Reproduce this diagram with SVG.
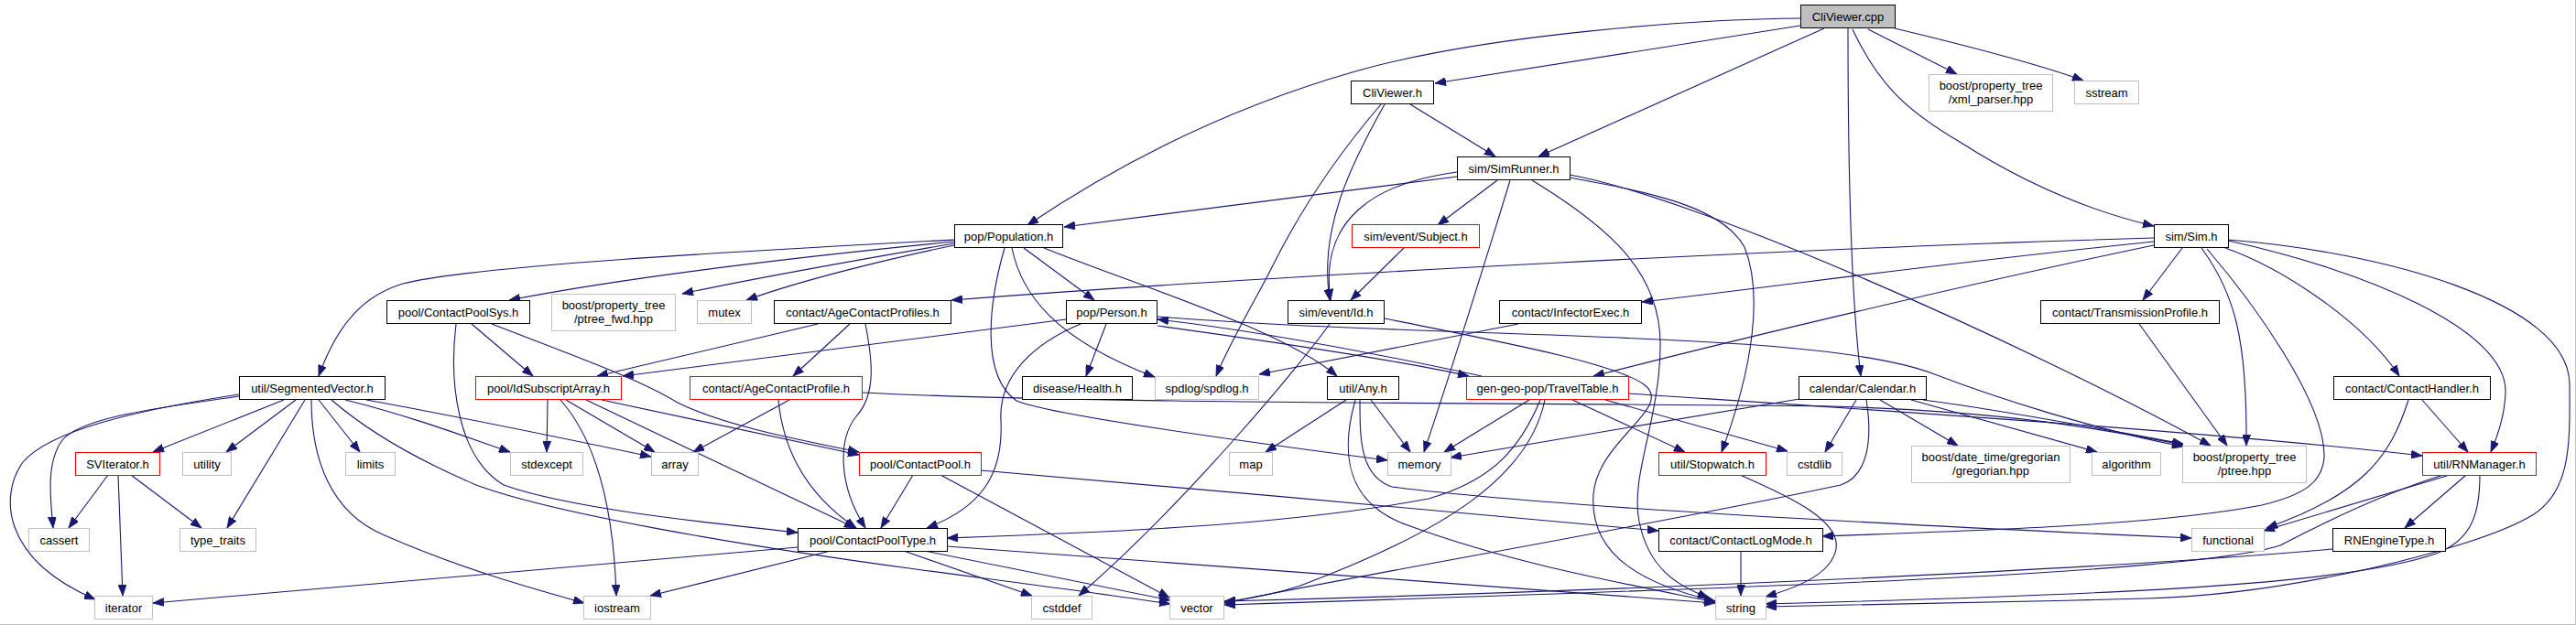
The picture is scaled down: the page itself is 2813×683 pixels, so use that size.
<svg xmlns="http://www.w3.org/2000/svg" width="2813" height="683" viewBox="0 0 2813 683">
<style>
.nd rect{fill:#ffffff;stroke:#000000;stroke-width:1}
.ex rect{fill:#ffffff;stroke:#bfbfbf;stroke-width:1}
.tr rect{fill:#ffffff;stroke:#ff0000;stroke-width:1}
.rt rect{fill:#bfbfbf;stroke:#000000;stroke-width:1}
text{font-family:"Liberation Sans",Arial,sans-serif;font-size:13px;fill:#000000;text-anchor:middle}
#edges path{fill:none;stroke:#191970;stroke-width:1.1;marker-end:url(#a)}
</style>
<defs>
<marker id="a" markerWidth="13" markerHeight="9" refX="12" refY="4.5" orient="auto" markerUnits="userSpaceOnUse">
<path d="M0,0 L12,4.5 L0,9 z" fill="#191970" stroke="#191970" stroke-width="0.8"/>
</marker>
</defs>
<rect x="0" y="0" width="2813" height="683" fill="#ffffff"/>
<line x1="0" y1="682.5" x2="2813" y2="682.5" stroke="#c0c0c0" stroke-width="1"/>
<line x1="2812.5" y1="0" x2="2812.5" y2="683" stroke="#c0c0c0" stroke-width="1"/>

<g id="edges">
<path d="M1966,28 L1567,91"/>
<path d="M1966,20 C1850,21 1620,38 1480,78 C1340,118 1220,180 1122,246"/>
<path d="M1992,31 L1680,171"/>
<path d="M2018,31 C2018,200 2022,330 2032,411"/>
<path d="M2040,32 L2137,81"/>
<path d="M2069,31 C2140,48 2220,68 2275,88"/>
<path d="M2023,32 C2050,90 2080,120 2140,155 C2210,200 2280,230 2352,247"/>
<path d="M1540,114 L1633,171"/>
<path d="M1512,114 C1475,180 1440,250 1452,328"/>
<path d="M1591,188 C1500,200 1440,240 1453,328"/>
<path d="M1508,114 C1460,170 1420,230 1390,290 C1370,330 1345,370 1328,411"/>
<path d="M1591,193 L1162,248"/>
<path d="M1635,197 L1570,246"/>
<path d="M1649,197 C1630,260 1580,420 1555,494"/>
<path d="M1673,197 C1760,250 1815,300 1813,380 C1812,460 1780,520 1790,570 C1800,620 1830,640 1866,653"/>
<path d="M1714,194 C1800,210 1880,225 1905,270 C1925,320 1915,400 1880,494"/>
<path d="M1714,191 C1850,215 2200,370 2414,487"/>
<path d="M1533,271 L1475,328"/>
<path d="M1452,354 C1425,392 1300,545 1178,651"/>
<path d="M1512,348 C1620,370 1760,395 1795,420 C1830,445 1745,480 1740,540 C1735,610 1800,640 1873,657"/>
<path d="M1042,262 C800,275 520,290 440,310 C400,322 370,350 348,411"/>
<path d="M1042,264 C900,278 700,300 556,328"/>
<path d="M1042,266 C960,280 820,305 745,321"/>
<path d="M1042,268 C960,285 870,308 815,328"/>
<path d="M1097,271 C1080,330 1070,410 1110,438 C1150,455 1400,488 1515,503"/>
<path d="M1105,271 C1115,320 1150,370 1261,412"/>
<path d="M1118,271 L1195,328"/>
<path d="M1140,271 C1250,315 1400,360 1460,411"/>
<path d="M515,354 L582,411"/>
<path d="M537,354 C630,390 700,415 740,440 C790,465 870,480 938,494"/>
<path d="M498,354 C490,420 500,500 550,530 C620,555 760,570 871,582"/>
<path d="M893,354 L652,411"/>
<path d="M928,354 L866,411"/>
<path d="M945,354 C952,390 958,430 935,455 C915,480 915,530 945,577"/>
<path d="M1164,349 L680,411"/>
<path d="M1208,354 L1186,411"/>
<path d="M1180,354 C1130,375 1090,410 1093,460 C1096,520 1070,555 1012,577"/>
<path d="M1264,356 C1380,372 1520,392 1604,411"/>
<path d="M1618,411 C1520,390 1380,362 1264,349"/>
<path d="M1264,346 C1600,372 1980,360 2110,408 C2180,435 2290,470 2384,488"/>
<path d="M997,519 L962,577"/>
<path d="M1027,519 L1277,653"/>
<path d="M1071,514 C1300,534 1600,560 1811,580"/>
<path d="M598,437 L597,494"/>
<path d="M618,437 L715,494"/>
<path d="M612,437 C650,480 670,550 673,651"/>
<path d="M640,437 L934,577"/>
<path d="M657,437 L938,497"/>
<path d="M862,437 L757,494"/>
<path d="M850,437 C855,490 880,540 935,577"/>
<path d="M941,429 C1200,442 1700,440 2000,444 C2200,450 2300,470 2384,486"/>
<path d="M310,437 L167,494"/>
<path d="M323,437 L247,494"/>
<path d="M333,437 L248,577"/>
<path d="M348,437 L393,494"/>
<path d="M261,433 C180,445 90,455 68,481 C50,505 55,545 58,577"/>
<path d="M261,431 C150,448 55,470 25,505 C0,540 0,610 104,655"/>
<path d="M340,437 C340,500 360,560 420,585 C500,620 570,640 638,659"/>
<path d="M377,437 C450,455 510,478 557,494"/>
<path d="M400,437 C500,455 620,480 711,499"/>
<path d="M362,437 C400,470 450,500 520,530 C600,560 800,595 1000,622 C1120,638 1200,648 1278,660"/>
<path d="M118,519 L75,577"/>
<path d="M129,519 L134,651"/>
<path d="M143,519 L220,577"/>
<path d="M1470,437 L1382,494"/>
<path d="M1497,437 L1540,494"/>
<path d="M1485,437 C1485,480 1485,520 1520,532 C1700,555 2100,575 2393,588"/>
<path d="M1480,437 C1465,490 1465,550 1540,575 C1650,615 1760,635 1873,658"/>
<path d="M1670,437 L1577,494"/>
<path d="M1717,437 L1840,494"/>
<path d="M1753,437 L1952,493"/>
<path d="M1778,430 C2000,445 2400,470 2645,498"/>
<path d="M1687,437 C1670,520 1580,580 1420,640 C1390,650 1360,655 1337,658"/>
<path d="M1682,437 C1660,490 1630,525 1560,545 C1400,575 1200,582 1034,588"/>
<path d="M1965,436 C1850,455 1700,480 1584,500"/>
<path d="M2027,437 L1993,494"/>
<path d="M2053,437 L2138,487"/>
<path d="M2087,437 L2290,494"/>
<path d="M2100,437 C2200,450 2300,470 2384,485"/>
<path d="M2038,437 C2045,480 2040,520 2010,530 C1800,575 1500,625 1337,659"/>
<path d="M1900,519 C1960,545 2010,570 2005,600 C2000,625 1970,640 1928,652"/>
<path d="M1901,602 L1901,651"/>
<path d="M871,598 L167,659"/>
<path d="M907,602 L710,651"/>
<path d="M987,602 L1127,651"/>
<path d="M1010,602 L1278,656"/>
<path d="M1034,597 C1300,615 1600,640 1873,659"/>
<path d="M2352,260 C2000,270 1400,300 1039,328"/>
<path d="M2352,264 C2100,290 1950,312 1793,330"/>
<path d="M2352,268 C2150,310 1900,370 1740,411"/>
<path d="M2383,271 L2340,328"/>
<path d="M2404,271 C2440,320 2454,370 2453,487"/>
<path d="M2410,272 C2460,330 2540,440 2538,500 C2536,525 2520,540 2470,552 C2350,575 2150,580 1990,586"/>
<path d="M2430,271 C2490,292 2580,350 2620,411"/>
<path d="M2433,263 C2580,295 2740,360 2736,430 C2735,455 2728,475 2720,494"/>
<path d="M2433,262 C2600,275 2806,330 2806,420 C2806,480 2810,540 2760,566 C2700,600 2500,650 2343,654 C2200,658 2050,660 1928,663"/>
<path d="M2708,519 C2708,560 2700,590 2660,605 C2560,640 2300,650 1928,660"/>
<path d="M2668,519 C2600,540 2530,575 2490,596 C2400,625 2000,640 1337,661"/>
<path d="M2675,519 L2472,580"/>
<path d="M2693,519 L2626,577"/>
<path d="M2547,600 C2300,622 1800,645 1337,657"/>
<path d="M2645,437 L2695,494"/>
<path d="M2630,437 C2610,500 2580,540 2475,577"/>
<path d="M2336,354 L2432,487"/>
<path d="M1658,354 L1375,409"/>
</g>

<g id="n0" class="rt"><rect x="1966.5" y="5.5" width="103" height="25"/><text x="2018" y="22.5">CliViewer.cpp</text></g>
<g id="n1" class="nd"><rect x="1475.5" y="88.5" width="90" height="25"/><text x="1520.5" y="105.5">CliViewer.h</text></g>
<g id="n2" class="ex"><rect x="2106.5" y="81.5" width="135" height="40"/><text x="2174" y="98">boost/property_tree</text><text x="2174" y="112.5">/xml_parser.hpp</text></g>
<g id="n3" class="ex"><rect x="2265.5" y="88.5" width="70" height="25"/><text x="2300.5" y="105.5">sstream</text></g>
<g id="n4" class="nd"><rect x="1591.5" y="171.5" width="123" height="25"/><text x="1653" y="188.5">sim/SimRunner.h</text></g>
<g id="n5" class="nd"><rect x="1042.5" y="245.5" width="118" height="25"/><text x="1101.5" y="262.5">pop/Population.h</text></g>
<g id="n6" class="tr"><rect x="1476.5" y="245.5" width="139" height="25"/><text x="1546" y="262.5">sim/event/Subject.h</text></g>
<g id="n7" class="nd"><rect x="2352.5" y="245.5" width="81" height="25"/><text x="2393" y="262.5">sim/Sim.h</text></g>
<g id="n8" class="nd"><rect x="422.5" y="328.5" width="156" height="25"/><text x="500.5" y="345.5">pool/ContactPoolSys.h</text></g>
<g id="n9" class="ex"><rect x="602.5" y="321.5" width="135" height="40"/><text x="670" y="338">boost/property_tree</text><text x="670" y="352.5">/ptree_fwd.hpp</text></g>
<g id="n10" class="ex"><rect x="761.5" y="328.5" width="59" height="25"/><text x="791" y="345.5">mutex</text></g>
<g id="n11" class="nd"><rect x="845.5" y="328.5" width="193" height="25"/><text x="942" y="345.5">contact/AgeContactProfiles.h</text></g>
<g id="n12" class="nd"><rect x="1164.5" y="328.5" width="99" height="25"/><text x="1214" y="345.5">pop/Person.h</text></g>
<g id="n13" class="nd"><rect x="1406.5" y="328.5" width="105" height="25"/><text x="1459" y="345.5">sim/event/Id.h</text></g>
<g id="n14" class="nd"><rect x="1637.5" y="328.5" width="155" height="25"/><text x="1715" y="345.5">contact/InfectorExec.h</text></g>
<g id="n15" class="nd"><rect x="2228.5" y="328.5" width="195" height="25"/><text x="2326" y="345.5">contact/TransmissionProfile.h</text></g>
<g id="n16" class="nd"><rect x="261.5" y="411.5" width="159" height="25"/><text x="341" y="428.5">util/SegmentedVector.h</text></g>
<g id="n17" class="tr"><rect x="519.5" y="411.5" width="159" height="25"/><text x="599" y="428.5">pool/IdSubscriptArray.h</text></g>
<g id="n18" class="tr"><rect x="753.5" y="411.5" width="188" height="25"/><text x="847.5" y="428.5">contact/AgeContactProfile.h</text></g>
<g id="n19" class="nd"><rect x="1116.5" y="411.5" width="120" height="25"/><text x="1176.5" y="428.5">disease/Health.h</text></g>
<g id="n20" class="ex"><rect x="1261.5" y="411.5" width="113" height="25"/><text x="1318" y="428.5">spdlog/spdlog.h</text></g>
<g id="n21" class="nd"><rect x="1449.5" y="411.5" width="78" height="25"/><text x="1488.5" y="428.5">util/Any.h</text></g>
<g id="n22" class="tr"><rect x="1601.5" y="411.5" width="177" height="25"/><text x="1690" y="428.5">gen-geo-pop/TravelTable.h</text></g>
<g id="n23" class="nd"><rect x="1964.5" y="411.5" width="139" height="25"/><text x="2034" y="428.5">calendar/Calendar.h</text></g>
<g id="n24" class="nd"><rect x="2548.5" y="411.5" width="171" height="25"/><text x="2634" y="428.5">contact/ContactHandler.h</text></g>
<g id="n25" class="tr"><rect x="82.5" y="494.5" width="92" height="25"/><text x="128.5" y="511.5">SVIterator.h</text></g>
<g id="n26" class="ex"><rect x="199.5" y="494.5" width="53" height="25"/><text x="226" y="511.5">utility</text></g>
<g id="n27" class="ex"><rect x="377.5" y="494.5" width="54" height="25"/><text x="404.5" y="511.5">limits</text></g>
<g id="n28" class="ex"><rect x="557.5" y="494.5" width="79" height="25"/><text x="597" y="511.5">stdexcept</text></g>
<g id="n29" class="ex"><rect x="711.5" y="494.5" width="51" height="25"/><text x="737" y="511.5">array</text></g>
<g id="n30" class="tr"><rect x="938.5" y="494.5" width="133" height="25"/><text x="1005" y="511.5">pool/ContactPool.h</text></g>
<g id="n31" class="ex"><rect x="1342.5" y="494.5" width="47" height="25"/><text x="1366" y="511.5">map</text></g>
<g id="n32" class="ex"><rect x="1515.5" y="494.5" width="69" height="25"/><text x="1550" y="511.5">memory</text></g>
<g id="n33" class="tr"><rect x="1811.5" y="494.5" width="117" height="25"/><text x="1870" y="511.5">util/Stopwatch.h</text></g>
<g id="n34" class="ex"><rect x="1951.5" y="494.5" width="60" height="25"/><text x="1981.5" y="511.5">cstdlib</text></g>
<g id="n35" class="ex"><rect x="2087.5" y="487.5" width="173" height="40"/><text x="2174" y="504">boost/date_time/gregorian</text><text x="2174" y="518.5">/gregorian.hpp</text></g>
<g id="n36" class="ex"><rect x="2284.5" y="494.5" width="75" height="25"/><text x="2322" y="511.5">algorithm</text></g>
<g id="n37" class="ex"><rect x="2383.5" y="487.5" width="135" height="40"/><text x="2451" y="504">boost/property_tree</text><text x="2451" y="518.5">/ptree.hpp</text></g>
<g id="n38" class="tr"><rect x="2645.5" y="494.5" width="124" height="25"/><text x="2707.5" y="511.5">util/RNManager.h</text></g>
<g id="n39" class="ex"><rect x="31.5" y="577.5" width="66" height="25"/><text x="64.5" y="594.5">cassert</text></g>
<g id="n40" class="ex"><rect x="196.5" y="577.5" width="83" height="25"/><text x="238" y="594.5">type_traits</text></g>
<g id="n41" class="nd"><rect x="871.5" y="577.5" width="163" height="25"/><text x="953" y="594.5">pool/ContactPoolType.h</text></g>
<g id="n42" class="nd"><rect x="1811.5" y="577.5" width="179" height="25"/><text x="1901" y="594.5">contact/ContactLogMode.h</text></g>
<g id="n43" class="ex"><rect x="2393.5" y="577.5" width="79" height="25"/><text x="2433" y="594.5">functional</text></g>
<g id="n44" class="nd"><rect x="2547.5" y="577.5" width="123" height="25"/><text x="2609" y="594.5">RNEngineType.h</text></g>
<g id="n45" class="ex"><rect x="103.5" y="651.5" width="63" height="25"/><text x="135" y="668.5">iterator</text></g>
<g id="n46" class="ex"><rect x="637.5" y="651.5" width="73" height="25"/><text x="674" y="668.5">iostream</text></g>
<g id="n47" class="ex"><rect x="1126.5" y="651.5" width="66" height="25"/><text x="1159.5" y="668.5">cstddef</text></g>
<g id="n48" class="ex"><rect x="1277.5" y="651.5" width="59" height="25"/><text x="1307" y="668.5">vector</text></g>
<g id="n49" class="ex"><rect x="1873.5" y="651.5" width="55" height="25"/><text x="1901" y="668.5">string</text></g>
</svg>
